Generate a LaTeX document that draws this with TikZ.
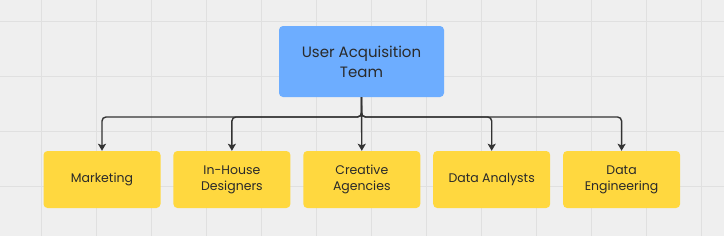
\documentclass[tikz,border=0pt]{standalone}
\usepackage{fontspec}
\setsansfont{Poppins}
\usepackage{tikz}
\usetikzlibrary{
  arrows.meta, calc, positioning
}
\definecolor{canvasgray}{HTML}{EFEFEF}
\definecolor{gridgray}{HTML}{E0E0E0}
\definecolor{leadblue}{HTML}{6DADFF}
\definecolor{teamyellow}{HTML}{FFD83F}
\definecolor{textdark}{HTML}{2A2A2A}
\definecolor{linedark}{HTML}{333333}
\tikzset{
  % Root of the chart
  lead/.style={
    fill=leadblue, rounded corners=4pt,
    minimum height=71pt, minimum width=165pt,
    font=\sffamily\fontsize{15}{20}\selectfont, text=textdark,
    align=center, inner sep=4pt,
  },
  % Sub-teams
  unit/.style={
    fill=teamyellow, rounded corners=4pt,
    minimum height=57pt, minimum width=117pt,
    font=\sffamily\fontsize{12.5}{16}\selectfont, text=textdark,
    align=center, inner sep=3pt,
  },
  % Arrows
  arr/.style={-{Stealth[length=7pt, width=8pt, inset=1.5pt]}, line width=1.4pt,
              linedark, rounded corners=4pt},
  gridline/.style={gridgray, line width=1pt},
}

\begin{document}
\begin{tikzpicture}[x=1pt, y=-1pt]
    \fill[canvasgray] (0,0) rectangle (724,236);
    \useasboundingbox (0,0) rectangle (724,236);
    % background grid
    \foreach \gx in {0,...,12}
      \draw[gridline] (41.7+55*\gx,0) -- (41.7+55*\gx,236);
    \foreach \gy in {0,...,4}
      \draw[gridline] (0,21.7+55*\gy) -- (724,21.7+55*\gy);

    \node[lead] (uat) at (361.5,61.5) {User Acquisition\\Team};
    \node[unit] (mkt) at (102,179.5) {Marketing};
    \node[unit, right=12.5pt of mkt] (ihd) {In-House\\Designers};
    \node[unit, right=12.5pt of ihd] (cra) {Creative\\Agencies};
    \node[unit, right=12.5pt of cra] (dan) {Data Analysts};
    \node[unit, right=12.5pt of dan] (den) {Data\\Engineering};

    \coordinate (bus) at (361.5,117);
    \draw[arr] (uat.south) -- (bus) -| (mkt.north);
    \draw[arr] (uat.south) -- (bus) -| (ihd.north);
    \draw[arr] (uat.south) -- (cra.north);
    \draw[arr] (uat.south) -- (bus) -| (dan.north);
    \draw[arr] (uat.south) -- (bus) -| (den.north);
  \end{tikzpicture}
\end{document}
